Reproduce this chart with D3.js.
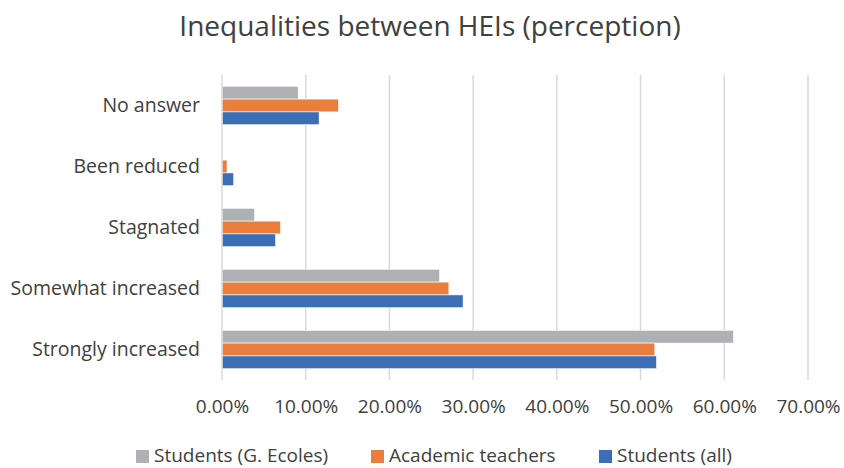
<!DOCTYPE html>
<html>
<head>
<meta charset="utf-8">
<script src="https://cdn.jsdelivr.net/npm/d3@7"></script>
<style>
  html, body { margin: 0; padding: 0; background: #ffffff; }
  svg text { font-family: "Open Sans", Lato, sans-serif; fill: #404040; }
</style>
</head>
<body>
<div id="chart"></div>
<script>
// categories, top to bottom
const categories = ['No answer', 'Been reduced', 'Stagnated', 'Somewhat increased', 'Strongly increased'];
const seriesNames = ['Students (G. Ecoles)', 'Academic teachers', 'Students (all)'];
const seriesColors = ['#AFB0B3', '#EB7E3C', '#3B6EB5'];

// values in %
const studentsEcoles = [9.1, 0, 3.9, 26.0, 61.1];
const academicTeachers = [13.9, 0.6, 7.0, 27.1, 51.7];
const studentsAll = [11.6, 1.4, 6.4, 28.8, 51.9];

const xTicks = [0, 10, 20, 30, 40, 50, 60, 70];

const series = [studentsEcoles, academicTeachers, studentsAll];

const W = 844, H = 468;
const margin = { top: 75, right: 36, bottom: 88, left: 222 };
const width = W - margin.left - margin.right;
const height = H - margin.top - margin.bottom;

const svg = d3.select('#chart').append('svg')
  .attr('width', W)
  .attr('height', H);

svg.append('text')
  .attr('x', 430)
  .attr('y', 36)
  .attr('text-anchor', 'middle')
  .attr('font-size', '28px')
  .text('Inequalities between HEIs (perception)');

const g = svg.append('g')
  .attr('transform', `translate(${margin.left},${margin.top})`);

const x = d3.scaleLinear().domain([0, 70]).range([0, width]);

const y = d3.scaleBand()
  .domain(categories)
  .range([0, height])
  .paddingInner(0.37)
  .paddingOuter(0.185);

const ySub = d3.scaleBand()
  .domain(d3.range(series.length))
  .range([0, y.bandwidth()]);

// gridlines
g.append('g')
  .selectAll('line')
  .data(xTicks.slice(1))
  .enter()
  .append('line')
  .attr('x1', (d) => x(d))
  .attr('x2', (d) => x(d))
  .attr('y1', 0)
  .attr('y2', height)
  .attr('stroke', '#D9D9D9')
  .attr('stroke-width', 1.5);

// bars
series.forEach((vals, si) => {
  g.append('g')
    .selectAll('rect')
    .data(vals)
    .enter()
    .append('rect')
    .attr('x', 0)
    .attr('y', (d, i) => y(categories[i]) + ySub(si))
    .attr('width', (d) => x(d))
    .attr('height', ySub.bandwidth())
    .attr('fill', seriesColors[si])
    .attr('stroke', d => d > 0 ? '#ffffff' : 'none')
    .attr('stroke-width', 0.6);
});

// vertical axis line
g.append('line')
  .attr('x1', 0).attr('x2', 0)
  .attr('y1', 0).attr('y2', height)
  .attr('stroke', '#D9D9D9')
  .attr('stroke-width', 1.5);

// x axis labels
const xAxis = g.append('g')
  .attr('transform', `translate(0,${height})`)
  .call(d3.axisBottom(x).tickValues(xTicks).tickSize(0).tickPadding(20)
    .tickFormat((d) => d.toFixed(2) + '%'));
xAxis.select('.domain').remove();
xAxis.selectAll('text')
  .attr('font-size', '19px')
  .attr('font-family', '"Open Sans", sans-serif')
  .attr('fill', '#404040');

// y axis labels
const yAxis = g.append('g')
  .call(d3.axisLeft(y).tickSize(0).tickPadding(22));
yAxis.select('.domain').remove();
yAxis.selectAll('text')
  .attr('font-size', '19.5px')
  .attr('font-family', '"Open Sans", sans-serif')
  .attr('fill', '#404040');

// legend
const legendX = [136, 371, 599];
const legend = svg.append('g').attr('transform', 'translate(0,450)');
seriesNames.forEach((name, i) => {
  legend.append('rect')
    .attr('x', legendX[i])
    .attr('y', 0)
    .attr('width', 13)
    .attr('height', 13)
    .attr('fill', seriesColors[i]);
  legend.append('text')
    .attr('x', legendX[i] + 18)
    .attr('y', 12)
    .attr('font-size', '19px')
    .text(name);
});
</script>
</body>
</html>
